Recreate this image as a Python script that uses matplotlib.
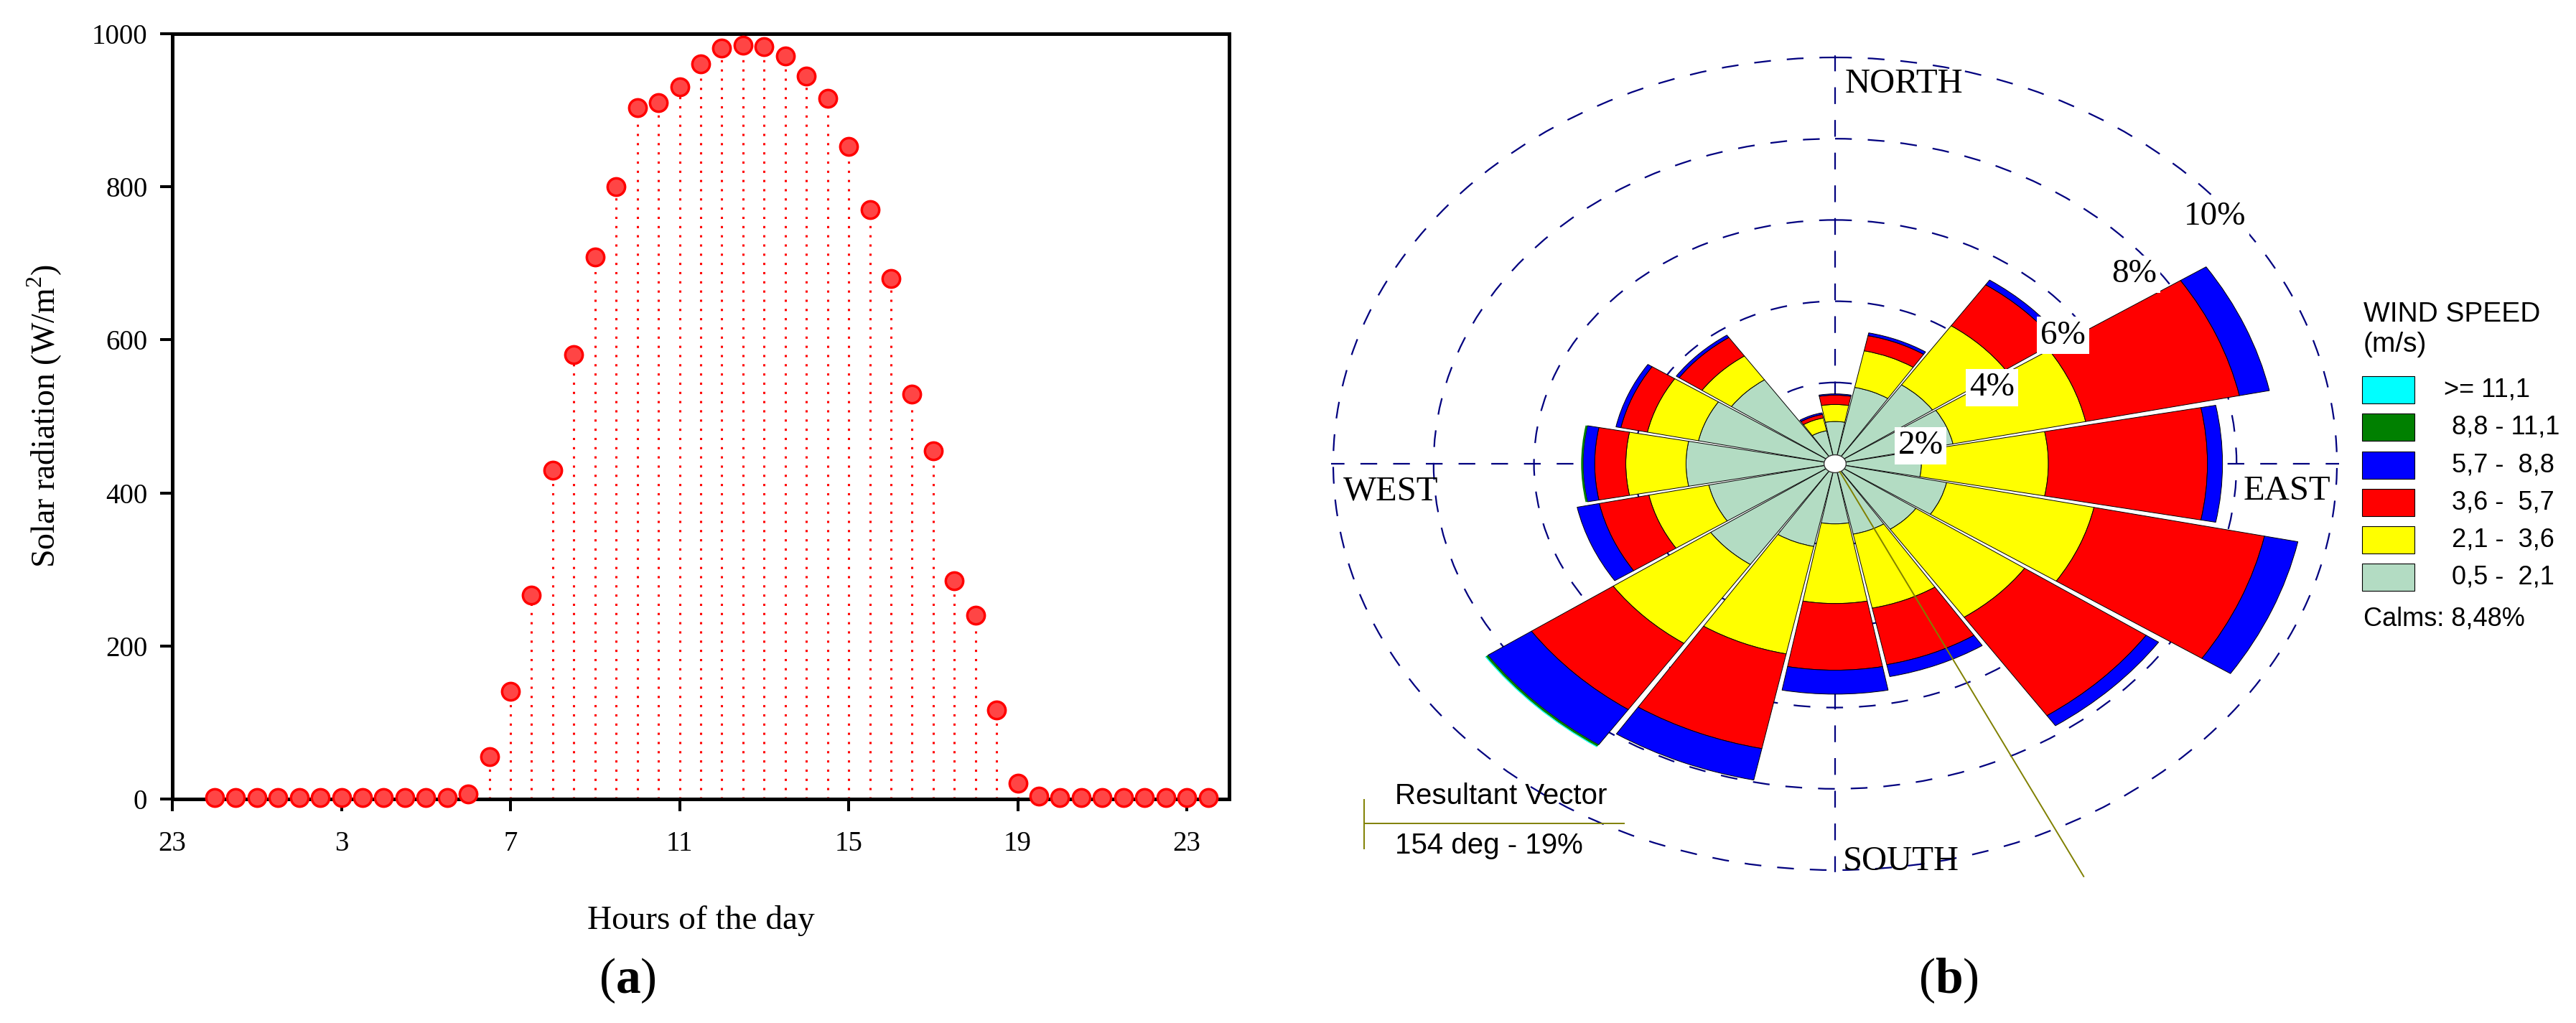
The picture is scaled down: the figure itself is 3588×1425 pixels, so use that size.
import numpy as np
import matplotlib.pyplot as plt
from matplotlib.patches import Rectangle

plt.rcParams['font.family'] = ['Liberation Serif', 'DejaVu Serif']
plt.rcParams['mathtext.fontset'] = 'custom'
plt.rcParams['mathtext.rm'] = 'Liberation Serif'
plt.rcParams['mathtext.bf'] = 'Liberation Serif:bold'

# (a) solar radiation, one value every half hour (0:00 .. 23:30)
hours = np.arange(0, 24, 0.5)
radiation = [1.5, 1.5, 1.5, 2, 2, 2, 1.5, 2, 2, 2, 2, 2,
             7, 55, 141, 266, 430, 581, 708, 800, 903, 910, 931, 961,
             981, 985, 983, 971, 945, 916, 853, 770, 680, 529, 455, 285,
             240, 116, 21, 4, 1.5, 1.5, 1.5, 1.5, 1.5, 1.5, 1.5, 1.5]
hour_ticks = [-1, 3, 7, 11, 15, 19, 23]
hour_labels = ['23', '3', '7', '11', '15', '19', '23']
rad_ticks = [0, 200, 400, 600, 800, 1000]

# (b) wind rose, frequency (%) per direction and speed class
directions = [0, 22.5, 45, 67.5, 90, 112.5, 135, 157.5,
              180, 202.5, 225, 247.5, 270, 292.5, 315, 337.5]
freq_05_21 = [1.04, 1.92, 2.35, 2.40, 1.72, 2.27, 1.95, 1.77,
              1.48, 2.08, 3.00, 2.57, 2.97, 2.78, 2.50, 0.83]
freq_21_36 = [0.42, 0.92, 1.76, 2.70, 2.53, 3.00, 2.62, 1.86,
              1.96, 2.70, 2.35, 1.22, 1.20, 1.04, 0.71, 0.32]
freq_36_57 = [0.23, 0.38, 1.22, 3.13, 3.17, 3.47, 2.93, 1.42,
              1.64, 2.38, 1.97, 1.01, 0.62, 0.54, 0.55, 0.09]
freq_57_88 = [0.03, 0.07, 0.14, 0.61, 0.30, 0.68, 0.30, 0.30,
              0.59, 0.79, 1.05, 0.45, 0.23, 0.10, 0.07, 0.04]
freq_88_111 = [0, 0, 0, 0, 0, 0, 0, 0,
               0, 0, 0.05, 0, 0.04, 0, 0, 0]
freq_111 = [0, 0, 0, 0, 0, 0, 0, 0,
            0, 0, 0.02, 0, 0, 0, 0, 0]
class_labels = ['0,5 -  2,1', '2,1 -  3,6', '3,6 -  5,7',
                '5,7 -  8,8', '8,8 - 11,1', '>= 11,1']
class_colors = ['#b3dcc3', '#ffff00', '#ff0000', '#0000ff', '#008000', '#00ffff']
calms = 8.48
resultant_dir = 154
resultant_pct = 19

W, H = 3588, 1425
fig = plt.figure(figsize=(W / 100, H / 100), dpi=100)

# ---------------- (a) ----------------
ax1 = fig.add_axes([240 / W, 1 - 1113 / H, (1712 - 240) / W, (1113 - 47) / H])
ax1.vlines(hours, 0, radiation, colors='red', linestyles=(0, (1, 3.2)), linewidth=2.2, zorder=2)
ax1.plot(hours, radiation, linestyle='none', marker='o', markersize=17.5,
         markerfacecolor='#ff4545', markeredgecolor='#ff0000', markeredgewidth=2.5,
         clip_on=False, zorder=5)
ax1.set_xlim(-1, 24)
ax1.set_ylim(0, 1000)
ax1.set_xticks(hour_ticks)
ax1.set_xticklabels(hour_labels)
ax1.set_yticks(rad_ticks)
for s in ax1.spines.values():
    s.set_linewidth(3.6)
ax1.tick_params(axis='both', direction='out', length=12, width=2.9, labelsize=28)
ax1.tick_params(axis='x', pad=20)
ax1.tick_params(axis='y', pad=13)
ax1.set_xlabel('Hours of the day', fontsize=34, labelpad=48)
ax1.set_ylabel('Solar radiation (W/m$^2$)', fontsize=33, labelpad=28)

# ---------------- (b) ----------------
rmax = 10.05
cx, cy = 2556, 646
rx, ry = 69.9 * rmax, 56.6 * rmax   # pixels per % horizontally / vertically
ax2 = fig.add_axes([(cx - rx) / W, 1 - (cy + ry) / H, 2 * rx / W, 2 * ry / H],
                   projection='polar')
ax2.set_aspect('auto')
ax2.set_theta_zero_location('N')
ax2.set_theta_direction(-1)
ax2.set_ylim(0, rmax)
ax2.set_rticks([2, 4, 6, 8, 10])
ax2.set_yticklabels([])
ax2.set_xticks(np.radians([0, 90, 180, 270]))
ax2.set_xticklabels([])
ax2.grid(True, color='#00007f', linestyle=(0, (10.5, 10)), linewidth=1.6)
ax2.spines['polar'].set_visible(False)
ax2.patch.set_alpha(0)

theta = np.radians(directions)
width = np.radians(22.5) * 0.955
bottom = np.zeros(len(directions))
class_freqs = [freq_05_21, freq_21_36, freq_36_57, freq_57_88, freq_88_111, freq_111]
for i, (freq, color) in enumerate(zip(class_freqs, class_colors)):
    freq = np.array(freq)
    m = freq > 0
    ax2.bar(theta[m], freq[m], width=width, bottom=bottom[m], color=color,
            edgecolor='black', linewidth=0.7 if i < 4 else 0, zorder=3)
    bottom += freq

# calm circle in the middle
circ = np.linspace(0, 2 * np.pi, 120)
ax2.fill(circ, np.full(circ.size, 0.22), facecolor='white', edgecolor='#333333',
         linewidth=1.0, zorder=5)

# resultant vector
vector_len = 11.3
ax2.plot([np.radians(resultant_dir)] * 2, [0.22, vector_len], color='#808000',
         linewidth=1.4, clip_on=False, zorder=6)

# ring labels
ring_labels = ['2%', '4%', '6%', '8%', '10%']
ring_pos = [(75.5, 1.76), (59.1, 3.64), (55.2, 5.53), (51.9, 7.57), (51.2, 9.71)]
for lab, (a, r) in zip(ring_labels, ring_pos):
    ax2.text(np.radians(a), r, lab, fontsize=34, ha='center', va='center', zorder=8,
             bbox=dict(boxstyle='square,pad=0.1', facecolor='white', edgecolor='none'))

# ---------------- overlay for texts (pixel coordinates) ----------------
ov = fig.add_axes([0, 0, 1, 1], zorder=10)
ov.set_xlim(0, W)
ov.set_ylim(H, 0)
ov.axis('off')
ov.patch.set_alpha(0)

ov.text(2570, 117, 'NORTH', fontsize=35, va='center', ha='left')
ov.text(2567, 1200, 'SOUTH', fontsize=35, va='center', ha='left')
ov.text(1871, 684, 'WEST', fontsize=35, va='center', ha='left')
ov.text(3125, 684, 'EAST', fontsize=35, va='center', ha='left')

sans = ['Liberation Sans', 'DejaVu Sans']
ov.text(3292, 438, 'WIND SPEED', fontsize=28, family=sans, va='center', ha='left')
ov.text(3292, 480, '(m/s)', fontsize=28, family=sans, va='center', ha='left')
box_y = [543, 595, 648, 700, 752, 804]
for i, (lab, col) in enumerate(zip(class_labels[::-1], class_colors[::-1])):
    yc = box_y[i]
    ov.add_patch(Rectangle((3290, yc - 19), 73, 38, facecolor=col,
                           edgecolor='black', linewidth=0.8))
    xt = 3404 if lab.startswith('>') else 3415
    ov.text(xt, yc, lab, fontsize=26, family=sans, va='center', ha='left')
ov.text(3292, 862, f'Calms: {calms:.2f}%'.replace('.', ','), fontsize=26,
        family=sans, va='center', ha='left')

ov.plot([1900, 2262], [1147, 1147], color='#808000', linewidth=1.4)
ov.plot([1900, 1900], [1114, 1182], color='#808000', linewidth=1.4)
ov.text(1943, 1109, 'Resultant Vector', fontsize=29, family=sans, va='center', ha='left')
ov.text(1943, 1178, f'{resultant_dir} deg - {resultant_pct}%', fontsize=29,
        family=sans, va='center', ha='left')

ov.text(874, 1366, r'($\mathbf{a}$)', fontsize=50, ha='center', va='center')
ov.text(2714, 1366, r'($\mathbf{b}$)', fontsize=50, ha='center', va='center')

fig.savefig('out.png', dpi=100)
